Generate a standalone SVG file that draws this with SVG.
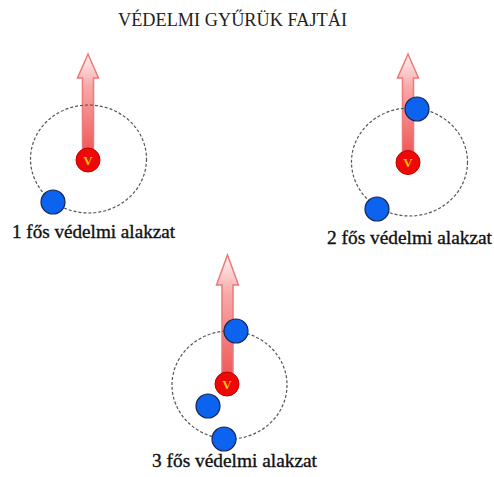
<svg xmlns="http://www.w3.org/2000/svg" width="494" height="477" viewBox="0 0 494 477">
<defs>
<linearGradient id="arrowGrad" x1="0" y1="0" x2="0" y2="1">
<stop offset="0" stop-color="#fff4f4"/>
<stop offset="0.3" stop-color="#f8aaaa"/>
<stop offset="1" stop-color="#ef5050"/>
</linearGradient>
</defs>
<style>
.title{font-family:"Liberation Serif","DejaVu Serif",serif;font-size:18px;fill:#222}
.label{font-family:"Liberation Serif","DejaVu Serif",serif;font-size:18.5px;fill:#111;stroke:#111;stroke-width:0.35}
.arrow{fill:url(#arrowGrad);stroke:#ec7a7a;stroke-width:1.5;stroke-linejoin:miter}
.ring{fill:none;stroke:#555;stroke-width:1.2;stroke-dasharray:3 2}
.vip{fill:#ee0808;stroke:#c00000;stroke-width:1}
.vtxt{font-family:"Liberation Serif","DejaVu Serif",serif;font-size:13px;font-weight:bold;fill:#f5c400;text-anchor:middle}
.guard{fill:#0b63ef;stroke:#1a2650;stroke-width:1.2}
</style>
<rect width="494" height="477" fill="#ffffff"/>
<text class="title" x="118" y="26" textLength="229" lengthAdjust="spacingAndGlyphs">VÉDELMI GYŰRÜK FAJTÁI</text>

<g id="fig1">
<path class="arrow" d="M88,54 L98.5,78 L93.5,78 L93.5,158 L82.5,158 L82.5,78 L77.5,78 Z"/>
<ellipse class="ring" cx="88.5" cy="159" rx="58" ry="54"/>
<g id="vip1"><circle class="vip" cx="88" cy="160" r="12"/><text class="vtxt" x="88" y="164.5">V</text></g>
<circle id="guard1a" class="guard" cx="53" cy="202" r="12"/>
<text class="label" x="12" y="238" textLength="163" lengthAdjust="spacingAndGlyphs">1 fős védelmi alakzat</text>
</g>

<g id="fig2">
<path class="arrow" d="M408,54 L418.5,78 L413.5,78 L413.5,160 L402.5,160 L402.5,78 L397.5,78 Z"/>
<ellipse class="ring" cx="409.5" cy="162" rx="58" ry="54"/>
<g id="vip2"><circle class="vip" cx="408" cy="162.5" r="12"/><text class="vtxt" x="408" y="167">V</text></g>
<circle id="guard2a" class="guard" cx="417" cy="109" r="12"/>
<circle id="guard2b" class="guard" cx="377" cy="209" r="12"/>
<text class="label" x="327" y="244" textLength="165" lengthAdjust="spacingAndGlyphs">2 fős védelmi alakzat</text>
</g>

<g id="fig3">
<path class="arrow" d="M227.5,255 L238.5,285 L233,285 L233,382 L222,382 L222,285 L216.5,285 Z"/>
<ellipse class="ring" cx="229.5" cy="385" rx="57.5" ry="54"/>
<g id="vip3"><circle class="vip" cx="227" cy="384" r="12"/><text class="vtxt" x="227" y="388.5">V</text></g>
<circle id="guard3a" class="guard" cx="236" cy="331" r="12"/>
<circle id="guard3b" class="guard" cx="208" cy="406" r="12"/>
<circle id="guard3c" class="guard" cx="224" cy="439" r="12"/>
<text class="label" x="152" y="467" textLength="165" lengthAdjust="spacingAndGlyphs">3 fős védelmi alakzat</text>
</g>
</svg>
